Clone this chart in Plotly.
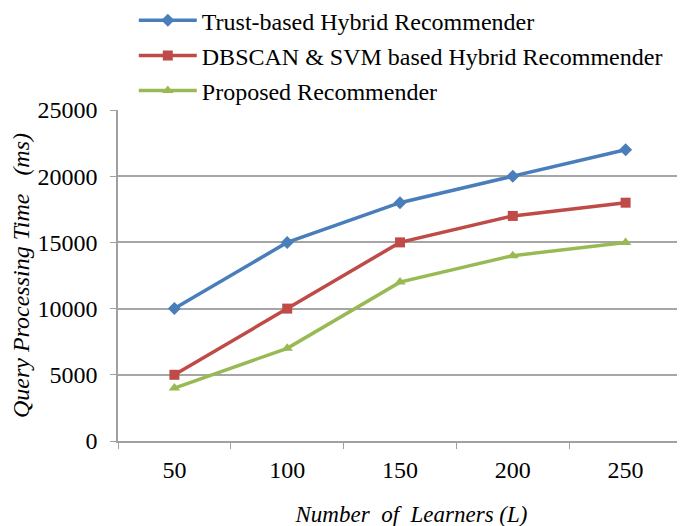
import plotly.graph_objects as go

LEARNERS = ['50', '100', '150', '200', '250']
TRUST = [10000, 15000, 18000, 20000, 22000]
DBSCAN_SVM = [5000, 10000, 15000, 17000, 18000]
PROPOSED = [4000, 7000, 12000, 14000, 15000]

SERIES = [
    ('Trust-based Hybrid Recommender', TRUST, '#4A7EBB', 'diamond'),
    ('DBSCAN &amp; SVM based Hybrid Recommender', DBSCAN_SVM, '#BE4B48', 'square'),
    ('Proposed Recommender', PROPOSED, '#98B954', 'triangle-up'),
]

FONT = 'Times New Roman, Liberation Serif, DejaVu Serif, serif'
NB = '\u00a0'

fig = go.Figure()
for i, (name, vals, color, sym) in enumerate(SERIES):
    fig.add_trace(go.Scatter(
        x=LEARNERS, y=vals, name=name, mode='lines+markers',
        line=dict(color=color, width=3.5),
        marker=dict(symbol=sym, size=10, color=color),
        legendgroup=str(i),
    ))

fig.update_layout(
    width=685, height=526,
    margin=dict(l=110, r=11, t=102, b=93, autoexpand=False),
    paper_bgcolor='white', plot_bgcolor='white',
    font=dict(family=FONT, size=22, color='black'),
    showlegend=True,
    legend=dict(
        x=0.028, y=1.338, xanchor='left', yanchor='top',
        font=dict(family=FONT, size=24), traceorder='grouped', tracegroupgap=1,
        itemwidth=58, bgcolor='rgba(0,0,0,0)',
    ),
    xaxis=dict(
        type='category', range=[-0.5, 4.5], automargin=False,
        tickson='boundaries', ticks='outside', ticklen=6, tickcolor='#A0A0A0',
        ticklabelstandoff=6,
        showline=True, linecolor='#A0A0A0', linewidth=1.5, showgrid=False,
        tickfont=dict(family=FONT, size=24),
        title=dict(text=f'<i>{NB * 4}Number{NB} of{NB} Learners (L)</i>', standoff=24,
                   font=dict(family=FONT, size=23)),
    ),
    yaxis=dict(
        range=[0, 25000], dtick=5000, tickformat='d', automargin=False,
        ticks='outside', ticklen=6, tickcolor='#A0A0A0', ticklabelstandoff=8,
        showline=True, linecolor='#A0A0A0', linewidth=1.5,
        showgrid=True, gridcolor='#A6A6A6', gridwidth=1.5, zeroline=False,
        tickfont=dict(family=FONT, size=24),
        title=dict(text=f'<i>Query Processing Time{NB}{NB} (ms)</i>', standoff=6,
                   font=dict(family=FONT, size=24)),
    ),
)

fig.write_html('out.html')
